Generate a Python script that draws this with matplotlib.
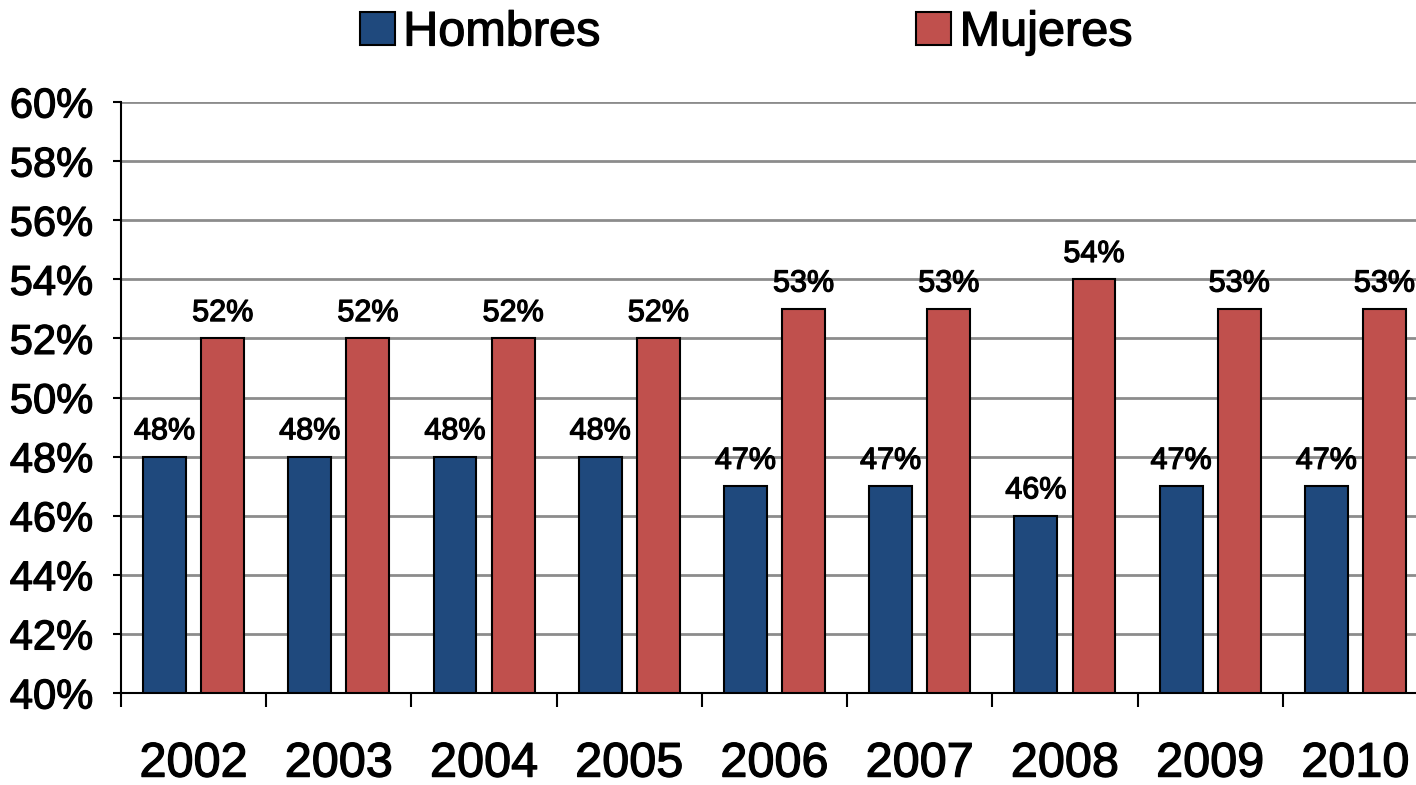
import matplotlib.pyplot as plt
import matplotlib.patheffects as pe
import numpy as np
from matplotlib.patches import Patch

plt.rcParams['font.family'] = ['Liberation Sans', 'DejaVu Sans']

years = ['2002', '2003', '2004', '2005', '2006', '2007', '2008', '2009', '2010']
hombres = [48, 48, 48, 48, 47, 47, 46, 47, 47]
mujeres = [52, 52, 52, 52, 53, 53, 54, 53, 53]
series_names = ['Hombres', 'Mujeres']
colors = ['#1F497D', '#C0504D']

# slight stroke so text looks as heavy as the original
heavy = [pe.withStroke(linewidth=0.9, foreground='black')]

fig = plt.figure(figsize=(14.16, 7.85), dpi=100)
# axes right edge runs slightly past the image, like the original
ax = fig.add_axes([121 / 1416, 92 / 785, (1428 - 121) / 1416, 591 / 785])

x = np.arange(len(years))
w = 0.295
off = 0.2
ax.bar(x - off, [v - 40 for v in hombres], w, bottom=40, color=colors[0],
       edgecolor='black', linewidth=1.5, zorder=3)
ax.bar(x + off, [v - 40 for v in mujeres], w, bottom=40, color=colors[1],
       edgecolor='black', linewidth=1.5, zorder=3)

for xi, v in zip(x, hombres):
    ax.text(xi - off, v + 0.35, f'{v}%', ha='center', va='bottom', fontsize=22,
            path_effects=heavy)
for xi, v in zip(x, mujeres):
    ax.text(xi + off, v + 0.35, f'{v}%', ha='center', va='bottom', fontsize=22,
            path_effects=heavy)

ax.set_xlim(-0.5, len(years) - 0.5)
ax.set_ylim(40, 60)
yt = np.arange(40, 61, 2)
ax.set_yticks(yt)
ax.set_yticklabels([f'{t}%' for t in yt], fontsize=30)
ax.yaxis.grid(True, color='#8c8c8c', linewidth=2, zorder=0)
ax.set_axisbelow(True)

ax.set_xticks(x)
ax.set_xticklabels(years, fontsize=35)
ax.set_xticks(np.arange(-0.5, len(years)), minor=True)
ax.tick_params(axis='x', which='major', length=0, pad=35)
ax.tick_params(axis='x', which='minor', length=10, width=1.5, direction='out')
ax.tick_params(axis='y', length=6, width=1.5, pad=14)
for lbl in ax.get_xticklabels() + ax.get_yticklabels():
    lbl.set_path_effects(heavy)

for s in ['top', 'right']:
    ax.spines[s].set_visible(False)
for s in ['left', 'bottom']:
    ax.spines[s].set_linewidth(1.5)

handles = [Patch(facecolor=c, edgecolor='black', linewidth=1.5) for c in colors]
leg = fig.legend(handles, series_names, loc='center', bbox_to_anchor=(0.527, 0.958),
                 ncol=2, frameon=False, fontsize=35, handlelength=0.72,
                 handleheight=0.65, handletextpad=0.17, columnspacing=6.5, borderpad=0)
for t in leg.get_texts():
    t.set_path_effects(heavy)

fig.savefig('out.png', dpi=100)
